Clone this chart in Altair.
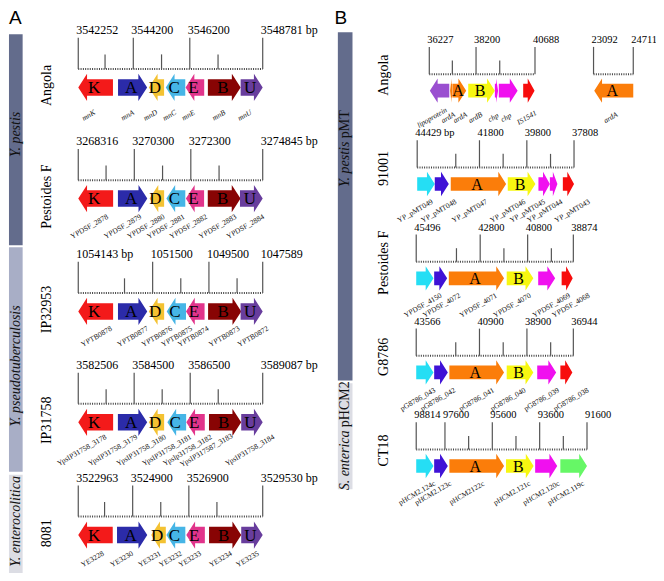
import altair as alt
import pandas as pd

# ======================= DATA =======================
# ---- Panel A : chromosomal mn locus ----
A_LETTERS = ["K", "A", "D", "C", "E", "B", "U"]
A_DIRS = ["<", ">", "<", "<", "<", ">", ">"]

ANGOLA_A_TICKS = [3542252, 3544200, 3546200, 3548781]
ANGOLA_A_TICK_TEXT = ["3542252", "3544200", "3546200", "3548781 bp"]
ANGOLA_A_MINOR = [3543200, 3545200, 3547200]
ANGOLA_A_START = [3542252, 3543660, 3544750, 3545350, 3546050, 3546840, 3548000]
ANGOLA_A_END = [3543480, 3544690, 3545290, 3546040, 3546710, 3548000, 3548781]
ANGOLA_A_NAMES = ["mnK", "mnA", "mnD", "mnC", "mnE", "mnB", "mnU"]

PESTF_A_TICKS = [3268316, 3270300, 3272300, 3274845]
PESTF_A_TICK_TEXT = ["3268316", "3270300", "3272300", "3274845 bp"]
PESTF_A_MINOR = [3269300, 3271300, 3273300]
PESTF_A_START = [3268316, 3269720, 3270840, 3271435, 3272125, 3272900, 3274040]
PESTF_A_END = [3269550, 3270760, 3271355, 3272105, 3272770, 3274060, 3274845]
PESTF_A_NAMES = ["YPDSF_2878", "YPDSF_2879", "YPDSF_2880", "YPDSF_2881",
                 "YPDSF_2882", "YPDSF_2883", "YPDSF_2884"]

IP32953_TICKS = [1054143, 1051500, 1049500, 1047589]
IP32953_TICK_TEXT = ["1054143 bp", "1051500", "1049500", "1047589"]
IP32953_MINOR = [1052500, 1050500, 1048500]
IP32953_START = [1054143, 1052732, 1051636, 1051000, 1050315, 1049530, 1048375]
IP32953_END = [1052905, 1051692, 1051091, 1050315, 1049655, 1048350, 1047589]
IP32953_NAMES = ["YPTB0878", "YPTB0877", "YPTB0876", "YPTB0875",
                 "YPTB0874", "YPTB0873", "YPTB0872"]

IP31758_TICKS = [3582506, 3584500, 3586500, 3589087]
IP31758_TICK_TEXT = ["3582506", "3584500", "3586500", "3589087 bp"]
IP31758_MINOR = [3583500, 3585500, 3587500]
IP31758_START = [3582506, 3583920, 3585025, 3585685, 3586360, 3587170, 3588320]
IP31758_END = [3583750, 3584965, 3585570, 3586355, 3587020, 3588320, 3589087]
IP31758_NAMES = ["YpsIP31758_3178", "YpsIP31758_3179", "YpsIP31758_3180",
                 "YpsIP31758_3181", "YpsIp31758_3182", "YpsIP317587_3183",
                 "YpsIP31758_3184"]

Y8081_TICKS = [3522963, 3524900, 3526900, 3529530]
Y8081_TICK_TEXT = ["3522963", "3524900", "3526900", "3529530 bp"]
Y8081_MINOR = [3523900, 3525900, 3527900]
Y8081_START = [3522963, 3524343, 3525560, 3526100, 3526810, 3527620, 3528765]
Y8081_END = [3524190, 3525420, 3526080, 3526775, 3527470, 3528765, 3529530]
Y8081_NAMES = ["YE3228", "YE3230", "YE3231", "YE3232", "YE3233", "YE3234", "YE3235"]

# ---- Panel B : plasmid loci ----
ANGOLA_B1_TICKS = [36227, 38200, 40688]
ANGOLA_B1_TICK_TEXT = ["36227", "38200", "40688"]
ANGOLA_B1_MINOR = [37200, 39200]
ANGOLA_B1_START = [36250, 37105, 37210, 37870, 38995, 39160, 40190]
ANGOLA_B1_END = [37070, 37200, 37785, 38995, 39130, 39955, 40670]
ANGOLA_B1_DIRS = ["<", "<", ">", ">", ">", ">", ">"]
ANGOLA_B1_TYPES = ["lipo", "ardA", "ardA", "ardB", "chp", "chp", "IS"]
ANGOLA_B1_NAMES = ["lipoprotein", "ardA", "ardA", "ardB", "chp", "chp", "IS1541"]

ANGOLA_B2_TICKS = [23092, 24711]
ANGOLA_B2_TICK_TEXT = ["23092", "24711"]
ANGOLA_B2_MINOR = []
ANGOLA_B2_START = [23120]
ANGOLA_B2_END = [24711]
ANGOLA_B2_DIRS = ["<"]
ANGOLA_B2_TYPES = ["ardA"]
ANGOLA_B2_NAMES = ["ardA"]

P91001_TICKS = [44429, 41800, 39800, 37808]
P91001_TICK_TEXT = ["44429 bp", "41800", "39800", "37808"]
P91001_MINOR = [42800, 40800, 38800]
P91001_START = [44429, 43687, 43012, 40606, 39310, 38828, 38280]
P91001_END = [43687, 43094, 40675, 39438, 38828, 38510, 37808]
P91001_DIRS = [">"] * 7
P91001_TYPES = ["cyan", "indigo", "ardA", "ardB", "chp", "chp", "IS"]
P91001_NAMES = ["YP_pMT049", "YP_pMT048", "YP_pMT047", "YP_pMT046",
                "YP_pMT045", "YP_pMT044", "YP_pMT043"]

PESTF_B_TICKS = [45496, 42800, 40800, 38874]
PESTF_B_TICK_TEXT = ["45496", "42800", "40800", "38874"]
PESTF_B_MINOR = [43800, 41800, 39800]
PESTF_B_START = [45496, 44739, 44122, 41683, 40355, 39367]
PESTF_B_END = [44768, 44192, 41794, 40560, 39640, 38900]
PESTF_B_DIRS = [">"] * 6
PESTF_B_TYPES = ["cyan", "indigo", "ardA", "ardB", "chp", "IS"]
PESTF_B_NAMES = ["YPDSF_4150", "YPDSF_4072", "YPDSF_4071", "YPDSF_4070",
                 "YPDSF_4069", "YPDSF_4068"]

G8786_TICKS = [43566, 40900, 38900, 36944]
G8786_TICK_TEXT = ["43566", "40900", "38900", "36944"]
G8786_MINOR = [41900, 39900, 37900]
G8786_START = [43566, 42809, 42168, 39753, 38466, 37491]
G8786_END = [42838, 42233, 39865, 38630, 37668, 36985]
G8786_DIRS = [">"] * 6
G8786_TYPES = ["cyan", "indigo", "ardA", "ardB", "chp", "IS"]
G8786_NAMES = ["pG8786_043", "pG8786_042", "pG8786_041", "pG8786_040",
               "pG8786_039", "pG8786_038"]

CT18_TICKS = [98814, 97600, 95600, 93600, 91600]
CT18_TICK_TEXT = ["98814", "97600", "95600", "93600", "91600"]
CT18_MINOR = [96600, 94600, 92600]
CT18_START = [98814, 98056, 97413, 95022, 93790, 92726]
CT18_END = [98084, 97478, 95104, 93855, 92858, 91600]
CT18_DIRS = [">"] * 6
CT18_TYPES = ["cyan", "indigo", "ardA", "ardB", "chp", "green"]
CT18_NAMES = ["pHCM2.124c", "pHCM2.123c", "pHCM2122c", "pHCM2.121c",
              "pHCM2.120c", "pHCM2.119c"]

SPECIES_A = ["Y. pestis", "Y. pseudotuberculosis", "Y. enterocolitica"]

# ======================= STYLE / LAYOUT =======================
A_COLORS = {"K": "#f31a1a", "A": "#2b2ba9", "D": "#f4c232", "C": "#46b5e6",
            "E": "#e1348b", "B": "#880404", "U": "#683d9d"}
B_COLORS = {"lipo": "#9a4fd0", "ardA": "#fb7d0a", "ardB": "#f7f711", "chp": "#f010ef",
            "IS": "#f70d0d", "cyan": "#25def4", "indigo": "#3f12d6", "green": "#66f766"}
B_LETTER = {"ardA": "A", "ardB": "B"}

PANEL = {
    "A": dict(rtop=8, mtop=25, base=40, ac=59, hb=8.5, hh=14, hl=9,
              nfs=12, sx=40, sdy=57, lfs=17, ldy=29),
    "B": dict(rtop=7, mtop=21, base=35, ac=52, hb=7, hh=12.5, hl=8,
              nfs=10.5, sx=385, sdy=36, lfs=16, ldy=28),
}
# placement of the small rotated gene labels: offset from gene centre, per track
LABEL_DX = {
    0: [-7, -5, -6, -6, -6.5, -5.5, -7],
    1: [-6.4, -10, -11, -10, -6.6, -6.5, -6],
    2: [1, 0.3, 0.5, 0.5, -2, -0.3, 1.5],
    3: [-14, -20, -15.5, -10, -8, -19, -2],
    4: [-3, -10.5, -9, -5.3, -5.7, -4.5, -4.5],
    5: [-7.5, -3, 1, -6, -3, -2, -2],
    6: [-3],
    7: [-11, -3, -9, -14, -17, -9, 4],
    8: [-2, 1, 2, -8, 5, 4],
    9: [-7, -3, 0, -12, -5, 5],
    10: [-8, -8, -10, -8, -5, -8],
}
# vertical offset of labels from the arrow axis (track-level overrides)
LABEL_DY = {2: 26, 4: 25}

tracks = [
    dict(panel="A", strain="Angola", T=22.7, x0=72, x1=261, ticks=ANGOLA_A_TICKS,
         ttext=ANGOLA_A_TICK_TEXT, minor=ANGOLA_A_MINOR, start=ANGOLA_A_START,
         end=ANGOLA_A_END, dirs=A_DIRS, types=A_LETTERS, names=ANGOLA_A_NAMES, italic=True),
    dict(panel="A", strain="Pestoides F", T=137, x0=72, x1=261, ticks=PESTF_A_TICKS,
         ttext=PESTF_A_TICK_TEXT, minor=PESTF_A_MINOR, start=PESTF_A_START,
         end=PESTF_A_END, dirs=A_DIRS, types=A_LETTERS, names=PESTF_A_NAMES, italic=False),
    dict(panel="A", strain="IP32953", T=253, x0=72, x1=261, ticks=IP32953_TICKS,
         ttext=IP32953_TICK_TEXT, minor=IP32953_MINOR, start=IP32953_START,
         end=IP32953_END, dirs=A_DIRS, types=A_LETTERS, names=IP32953_NAMES, italic=False),
    dict(panel="A", strain="IP31758", T=367, x0=72, x1=261, ticks=IP31758_TICKS,
         ttext=IP31758_TICK_TEXT, minor=IP31758_MINOR, start=IP31758_START,
         end=IP31758_END, dirs=A_DIRS, types=A_LETTERS, names=IP31758_NAMES, italic=False),
    dict(panel="A", strain="8081", T=483, x0=72, x1=261, ticks=Y8081_TICKS,
         ttext=Y8081_TICK_TEXT, minor=Y8081_MINOR, start=Y8081_START,
         end=Y8081_END, dirs=A_DIRS, types=A_LETTERS, names=Y8081_NAMES, italic=False),
    dict(panel="B", strain="Angola", T=33, x0=431.7, x1=540, ticks=ANGOLA_B1_TICKS,
         ttext=ANGOLA_B1_TICK_TEXT, minor=ANGOLA_B1_MINOR, start=ANGOLA_B1_START,
         end=ANGOLA_B1_END, dirs=ANGOLA_B1_DIRS, types=ANGOLA_B1_TYPES,
         names=ANGOLA_B1_NAMES, italic=True),
    dict(panel="B", strain=None, T=33, x0=600, x1=640.7, ticks=ANGOLA_B2_TICKS,
         ttext=ANGOLA_B2_TICK_TEXT, minor=ANGOLA_B2_MINOR, start=ANGOLA_B2_START,
         end=ANGOLA_B2_END, dirs=ANGOLA_B2_DIRS, types=ANGOLA_B2_TYPES,
         names=ANGOLA_B2_NAMES, italic=True),
    dict(panel="B", strain="91001", T=129, x0=419.3, x1=580, ticks=P91001_TICKS,
         ttext=P91001_TICK_TEXT, minor=P91001_MINOR, start=P91001_START,
         end=P91001_END, dirs=P91001_DIRS, types=P91001_TYPES, names=P91001_NAMES,
         italic=False),
    dict(panel="B", strain="Pestoides F", T=226, x0=418.3, x1=579.3, ticks=PESTF_B_TICKS,
         ttext=PESTF_B_TICK_TEXT, minor=PESTF_B_MINOR, start=PESTF_B_START,
         end=PESTF_B_END, dirs=PESTF_B_DIRS, types=PESTF_B_TYPES, names=PESTF_B_NAMES,
         italic=False),
    dict(panel="B", strain="G8786", T=322.7, x0=418.3, x1=579.3, ticks=G8786_TICKS,
         ttext=G8786_TICK_TEXT, minor=G8786_MINOR, start=G8786_START,
         end=G8786_END, dirs=G8786_DIRS, types=G8786_TYPES, names=G8786_NAMES,
         italic=False),
    dict(panel="B", strain="CT18", T=419, x0=418.3, x1=593.3, ticks=CT18_TICKS,
         ttext=CT18_TICK_TEXT, minor=CT18_MINOR, start=CT18_START,
         end=CT18_END, dirs=CT18_DIRS, types=CT18_TYPES, names=CT18_NAMES,
         italic=False),
]

# ======================= BUILD TABLES =======================
major_rows, minor_rows, base_rows, num_rows = [], [], [], []
poly_rows, letter_rows, glabel_rows, strain_rows = [], [], [], []

for ti, t in enumerate(tracks):
    P = PANEL[t["panel"]]
    bl, br = t["ticks"][0], t["ticks"][-1]

    def px(bp, t=t, bl=bl, br=br):
        return t["x0"] + (bp - bl) / (br - bl) * (t["x1"] - t["x0"])

    T = t["T"]
    for v, s in zip(t["ticks"], t["ttext"]):
        major_rows.append(dict(x=px(v), y=T + P["rtop"], y2=T + P["base"]))
        num_rows.append(dict(x=px(v), y=T, text=s, fs=P["nfs"]))
    for v in t["minor"]:
        minor_rows.append(dict(x=px(v), y=T + P["mtop"], y2=T + P["base"]))
    base_rows.append(dict(x=px(bl), x2=px(br), y=T + P["base"]))

    yc = T + P["ac"]
    n = len(t["start"])
    ldx = LABEL_DX.get(ti, [-3] * n)
    ldy = LABEL_DY.get(ti, P["ldy"])
    for gi, (s, e, d, ty, nm) in enumerate(zip(t["start"], t["end"], t["dirs"],
                                                 t["types"], t["names"])):
        a, b = sorted([px(s), px(e)])
        L = b - a
        h = min(P["hl"], 0.6 * L)
        if t["panel"] == "A":
            col, letter = A_COLORS[ty], ty
        else:
            col, letter = B_COLORS[ty], B_LETTER.get(ty, "")
        gid = f"{ti}_{gi}"
        eps = 0.01
        if d == ">":
            pts = [(a, yc - P["hb"], yc + P["hb"]), (b - h - eps, yc - P["hb"], yc + P["hb"]),
                   (b - h, yc - P["hh"], yc + P["hh"]), (b, yc, yc)]
        else:
            pts = [(a, yc, yc), (a + h, yc - P["hh"], yc + P["hh"]),
                   (a + h + eps, yc - P["hb"], yc + P["hb"]), (b, yc - P["hb"], yc + P["hb"])]
        for k, (xx, y1, y2) in enumerate(pts):
            poly_rows.append(dict(gid=gid, k=k, x=xx, ya=y1, yb=y2, color=col))
        cx = (a + b) / 2
        if letter and L > 12:
            letter_rows.append(dict(x=cx - 1.5, y=yc + 0.5, text=letter, fs=P["lfs"]))
        glabel_rows.append(dict(x=cx + ldx[gi], y=yc + ldy,
                                text=nm, italic=t["italic"]))
    if t["strain"]:
        strain_rows.append(dict(x=P["sx"], y=T + P["sdy"], text=t["strain"]))

# sidebars
BANDS = [
    dict(x=1, x2=15, y=27, y2=244, color="#636c8c"),
    dict(x=1, x2=15, y=246, y2=477, color="#a8aec6"),
    dict(x=1, x2=15, y=480, y2=581, color="#dcdde4"),
    dict(x=338, x2=353, y=25, y2=383, color="#636c8c"),
    dict(x=338, x2=353, y=386, y2=495, color="#dcdde4"),
]
species_center = [dict(x=8, y=130, text=SPECIES_A[0]),
                  dict(x=8, y=368, text=SPECIES_A[1]),
                  dict(x=8, y=528, text=SPECIES_A[2])]
species_left_it = [dict(x=345.5, y=184, text="Y. pestis"),
                   dict(x=345.5, y=496, text="S. enterica")]
species_left_rm = [dict(x=345.5, y=134, text="pMT"),
                   dict(x=345.5, y=431, text="pHCM2")]
panel_letters = [dict(x=7.5, y=1.5, text="A"), dict(x=341, y=1.5, text="B")]

# ======================= CHART =======================
XS = alt.Scale(domain=[0, 664], nice=False, zero=False)
YS = alt.Scale(domain=[0, 581], nice=False, zero=False, reverse=True)


def X(f):
    return alt.X(f"{f}:Q", scale=XS, axis=None)


def Y(f):
    return alt.Y(f"{f}:Q", scale=YS, axis=None)


SERIF = "Liberation Serif"

bands = alt.Chart(pd.DataFrame(BANDS)).mark_rect().encode(
    x=X("x"), x2="x2:Q", y=Y("y"), y2="y2:Q", color=alt.Color("color:N", scale=None))

sp_c = alt.Chart(pd.DataFrame(species_center)).mark_text(
    font=SERIF, fontSize=14, fontStyle="italic", angle=270, align="center",
    baseline="middle", color="#111").encode(x=X("x"), y=Y("y"), text="text:N")
sp_it = alt.Chart(pd.DataFrame(species_left_it)).mark_text(
    font=SERIF, fontSize=14, fontStyle="italic", angle=270, align="left",
    baseline="middle", color="#111").encode(x=X("x"), y=Y("y"), text="text:N")
sp_rm = alt.Chart(pd.DataFrame(species_left_rm)).mark_text(
    font=SERIF, fontSize=14, angle=270, align="left",
    baseline="middle", color="#111").encode(x=X("x"), y=Y("y"), text="text:N")
letters_panel = alt.Chart(pd.DataFrame(panel_letters)).mark_text(
    font="Liberation Sans", fontSize=19, align="center", baseline="top",
    color="#000").encode(x=X("x"), y=Y("y"), text="text:N")

strains = alt.Chart(pd.DataFrame(strain_rows)).mark_text(
    font=SERIF, fontSize=14, angle=270, align="center", baseline="middle",
    color="#000").encode(x=X("x"), y=Y("y"), text="text:N")

majors = alt.Chart(pd.DataFrame(major_rows)).mark_rule(
    color="#555", strokeWidth=1.2).encode(x=X("x"), y=Y("y"), y2="y2:Q")
minors = alt.Chart(pd.DataFrame(minor_rows)).mark_rule(
    color="#555", strokeWidth=1.2).encode(x=X("x"), y=Y("y"), y2="y2:Q")
baseline = alt.Chart(pd.DataFrame(base_rows)).mark_rule(
    color="#444", strokeWidth=2, strokeDash=[1, 1.3]).encode(
    x=X("x"), x2="x2:Q", y=Y("y"))
nums = alt.Chart(pd.DataFrame(num_rows)).mark_text(
    font=SERIF, align="left", baseline="middle", dx=-2, color="#000").encode(
    x=X("x"), y=Y("y"), text="text:N", size=alt.Size("fs:Q", scale=None))

arrows = alt.Chart(pd.DataFrame(poly_rows)).mark_area(
    interpolate="linear", strokeWidth=0).encode(
    x=X("x"),
    y=alt.Y("ya:Q", scale=YS, axis=None, stack=None),
    y2="yb:Q",
    detail="gid:N",
    color=alt.Color("color:N", scale=None))

gletters = alt.Chart(pd.DataFrame(letter_rows)).mark_text(
    font=SERIF, align="center", baseline="middle", color="#000").encode(
    x=X("x"), y=Y("y"), text="text:N", size=alt.Size("fs:Q", scale=None))

gl = pd.DataFrame(glabel_rows)
glab_it = alt.Chart(gl[gl["italic"]]).mark_text(
    font=SERIF, fontSize=7.5, fontStyle="italic", angle=330, align="center",
    baseline="middle", color="#111").encode(x=X("x"), y=Y("y"), text="text:N")
glab_rm = alt.Chart(gl[~gl["italic"]]).mark_text(
    font=SERIF, fontSize=7.5, angle=330, align="center",
    baseline="middle", color="#111").encode(x=X("x"), y=Y("y"), text="text:N")

chart = alt.layer(
    bands, sp_c, sp_it, sp_rm, letters_panel, strains,
    baseline, majors, minors, nums, arrows, gletters, glab_it, glab_rm
).properties(
    width=648, height=565, padding=0, autosize="none", background="white"
).configure_view(stroke=None)

chart.save("out.html", embed_options={"renderer": "svg", "actions": False})
